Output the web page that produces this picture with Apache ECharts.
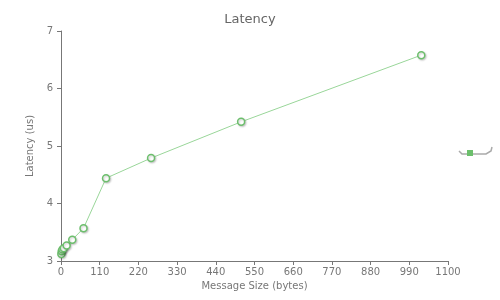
<!DOCTYPE html>
<html><head><meta charset="utf-8">
<script src="https://cdn.jsdelivr.net/npm/echarts@6/dist/echarts.min.js"></script>
<style>html,body{margin:0;padding:0;background:#fff}#c{width:500px;height:300px}</style>
</head><body><div id="c"></div>
<script>
const messageSizes = [1, 2, 4, 8, 16, 32, 64, 128, 256, 512, 1024];
const latencyUs = [3.12, 3.17, 3.2, 3.22, 3.27, 3.37, 3.57, 4.44, 4.79, 5.42, 6.58];
const seriesName = 'Latency';

const chart = echarts.init(document.getElementById('c'), null, {renderer: 'canvas'});
const font = 'Verdana, "DejaVu Sans", sans-serif';
chart.setOption({
  animation: false,
  textStyle: {fontFamily: font},
  title: {text: 'Latency', left: 'center', top: 8,
    textStyle: {fontFamily: font, fontSize: 13, fontWeight: 'normal', color: '#666'}},
  legend: {
    left: 467, top: 150, itemWidth: 6, itemHeight: 6, icon: 'rect', itemGap: 0,
    padding: 0, formatter: () => '', data: [seriesName],
    itemStyle: {color: '#6cbf6c', borderWidth: 0, shadowBlur: 0, shadowOffsetX: 0, shadowOffsetY: 0}
  },
  graphic: [{
    type: 'polyline', silent: true, z: -1,
    shape: {points: [[459, 151], [462, 154], [486, 154], [491, 151], [492, 147]]},
    style: {stroke: '#aaa', lineWidth: 1.5, fill: null}
  }],
  grid: {left: 61, right: 52, top: 31, bottom: 39},
  xAxis: {
    type: 'value', min: 0, max: 1100, interval: 110,
    name: 'Message Size (bytes)', nameLocation: 'middle', nameGap: 17,
    nameTextStyle: {color: '#777', fontSize: 10, fontFamily: font},
    axisLine: {lineStyle: {color: '#777'}},
    axisTick: {show: true, length: 4, lineStyle: {color: '#777'}},
    axisLabel: {color: '#777', fontSize: 10, margin: 6, fontFamily: font, formatter: v => String(v)},
    splitLine: {show: false}
  },
  yAxis: {
    type: 'value', min: 3, max: 7, interval: 1,
    name: 'Latency (us)', nameLocation: 'middle', nameGap: 24,
    nameTextStyle: {color: '#777', fontSize: 10, fontFamily: font},
    axisLine: {show: true, lineStyle: {color: '#777'}},
    axisTick: {show: true, length: 4, lineStyle: {color: '#777'}},
    axisLabel: {color: '#777', fontSize: 10, margin: 8, fontFamily: font},
    splitLine: {show: false}
  },
  series: [{
    name: seriesName, type: 'line',
    data: messageSizes.map((x, i) => [x, latencyUs[i]]),
    lineStyle: {color: '#99d699', width: 1},
    symbol: 'circle', symbolSize: 7,
    itemStyle: {color: '#fff', borderColor: '#6cbf6c', borderWidth: 1.5,
      shadowColor: 'rgba(0,0,0,0.2)', shadowBlur: 2, shadowOffsetX: 1, shadowOffsetY: 1}
  }]
});
</script></body></html>
